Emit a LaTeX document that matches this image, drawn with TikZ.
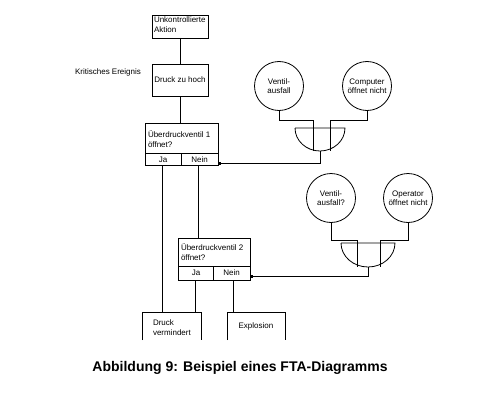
\documentclass[tikz,border=0pt]{standalone}
\usepackage{fontspec}
\setmainfont{Liberation Sans}
\usetikzlibrary{arrows.meta,calc}
\begin{document}
\begin{tikzpicture}[x=1pt,y=1pt,line width=0.8pt,
  every node/.style={inner sep=0pt,outer sep=0pt},
  txt/.style={font=\fontsize{8}{10}\selectfont},
  box/.style={draw,rectangle,minimum width=#1},
  circ/.style={draw,circle,minimum size=49pt,font=\fontsize{8}{9.5}\selectfont,align=center},
  conn/.style={-{Square[length=3pt,width=3pt]}}]
\useasboundingbox (0,0) rectangle (478,-401);
% boxes
\node[box=56pt,minimum height=23pt] (b1) at (180,-26.5) {};
\node[txt,align=left,anchor=west] (t1) at (154,-24.5) {Unkontrollierte\\Aktion};
\node[box=56pt,minimum height=32pt,txt] (b2) at (180,-80) {Druck zu hoch};
\node[txt,anchor=center] (ke) at (108,-72) {Kritisches Ereignis};
\node[box=73pt,minimum height=42pt] (b3) at (181.5,-144) {};
\node[txt,align=left,anchor=west] (t3) at (148,-139) {Überdruckventil 1\\öffnet?};
\draw (b3.west |- 0,-153) -- (b3.east |- 0,-153);
\draw (181,-153) -- (181,-165);
\node[txt] (ja1) at (163,-159.5) {Ja};
\node[txt] (ne1) at (199.5,-159.5) {Nein};
\node[box=72pt,minimum height=42pt] (b4) at (214,-259) {};
\node[txt,align=left,anchor=west] (t4) at (181,-252.5) {Überdruckventil 2\\öffnet?};
\draw (b4.west |- 0,-266) -- (b4.east |- 0,-266);
\draw (213,-266) -- (213,-280);
\node[txt] (ja2) at (196,-273) {Ja};
\node[txt] (ne2) at (231.5,-273) {Nein};
% open boxes at bottom
\node[minimum width=59pt,minimum height=28pt] (b5) at (171.5,-326) {};
\draw (b5.south west) -- (b5.north west) -- (b5.north east) -- (b5.south east);
\node[txt,align=left,anchor=west] (t5) at (153,-328) {Druck\\vermindert};
\node[minimum width=58pt,minimum height=28pt,txt] (b6) at (256,-326) {Explosion};
\draw (b6.south west) -- (b6.north west) -- (b6.north east) -- (b6.south east);
% circles
\node[circ] (c1) at (279,-86) {Ventil-\\ausfall};
\node[circ] (c2) at (367,-86) {Computer\\öffnet nicht};
\node[circ] (c3) at (331,-198) {Ventil-\\ausfall?};
\node[circ] (c4) at (408,-198) {Operator\\öffnet nicht};
% gates
\coordinate (g1l) at (295,-128);
\coordinate (g1b) at (320,-151);
\draw (g1l) -- ++(50,0) arc[start angle=0,end angle=-180,x radius=25pt,y radius=23pt];
\coordinate (g2l) at (341,-243);
\coordinate (g2b) at (368,-267);
\draw (g2l) -- ++(54,0) arc[start angle=0,end angle=-180,x radius=27pt,y radius=24pt];
% gate inputs
\draw (c1.south) -- (279,-120) -| (313,-151);
\draw (c2.south) -- (367,-120) -| (330,-151);
\draw (c3.south) -- (331,-240) -| (357,-267);
\draw (c4.south) -- (408,-240) -| (380,-267);
% tree connectors
\draw (b1.south) -- (b2.north);
\draw (b2.south) -- (b2.south |- b3.north);
\draw (162,-165) -- (162,-312);
\draw (198,-165) -- (198,-238);
\draw (195,-280) -- (195,-312);
\draw (233,-280) -- (233,-312);
\draw[conn] (g1b) -- (320,-163) -- (b3.east |- 0,-163);
\draw[conn] (g2b) -- (368,-276) -- (b4.east |- 0,-276);
% caption
\node[font=\bfseries\fontsize{14}{16}\selectfont] (cap) at (240,-368) {Abbildung 9: Beispiel eines FTA-Diagramms};
\end{tikzpicture}
\end{document}
